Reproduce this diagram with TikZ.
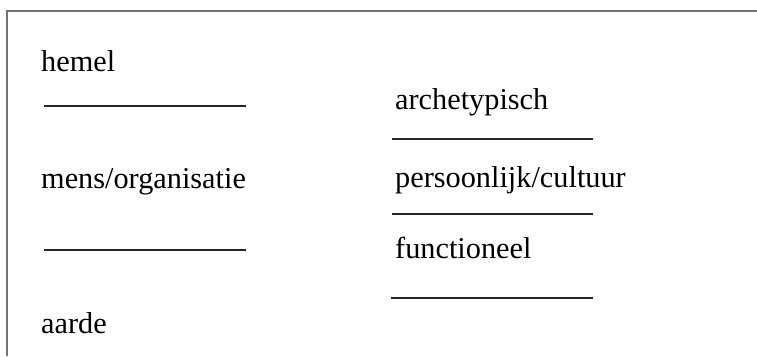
\documentclass[tikz,border=0pt]{standalone}
\usepackage{fontspec}
\setmainfont{Liberation Serif}
\begin{document}
\begin{tikzpicture}[x=1pt,y=-1pt,
  label/.style={anchor=base west,inner sep=0pt,font=\fontsize{30.3}{35}\selectfont},
  rule/.style={draw=black!85,line width=1.1pt},
  frame/.style={draw=black!55,line width=1.6pt}]
\useasboundingbox (0,0) rectangle (757,356);
% open frame: only the top and left edges show
\draw[frame] (7,356) -- (7,11) -- (757,11);

% left column
\node[label] (hemel) at (41,71) {hemel};
\draw[rule] (44,106) -- (246,106);
\node[label] (mens) at (41,188) {mens/organisatie};
\draw[rule] (44,250) -- (246,250);
\node[label] (aarde) at (41,333) {aarde};

% right column
\node[label] (arch) at (395,109.5) {archetypisch};
\draw[rule] (392,139) -- (593,139);
\node[label] (pers) at (395,187) {persoonlijk/cultuur};
\draw[rule] (392,214) -- (593,214);
\node[label] (func) at (395,258.5) {functioneel};
\draw[rule] (391,298) -- (593,298);
\end{tikzpicture}
\end{document}
